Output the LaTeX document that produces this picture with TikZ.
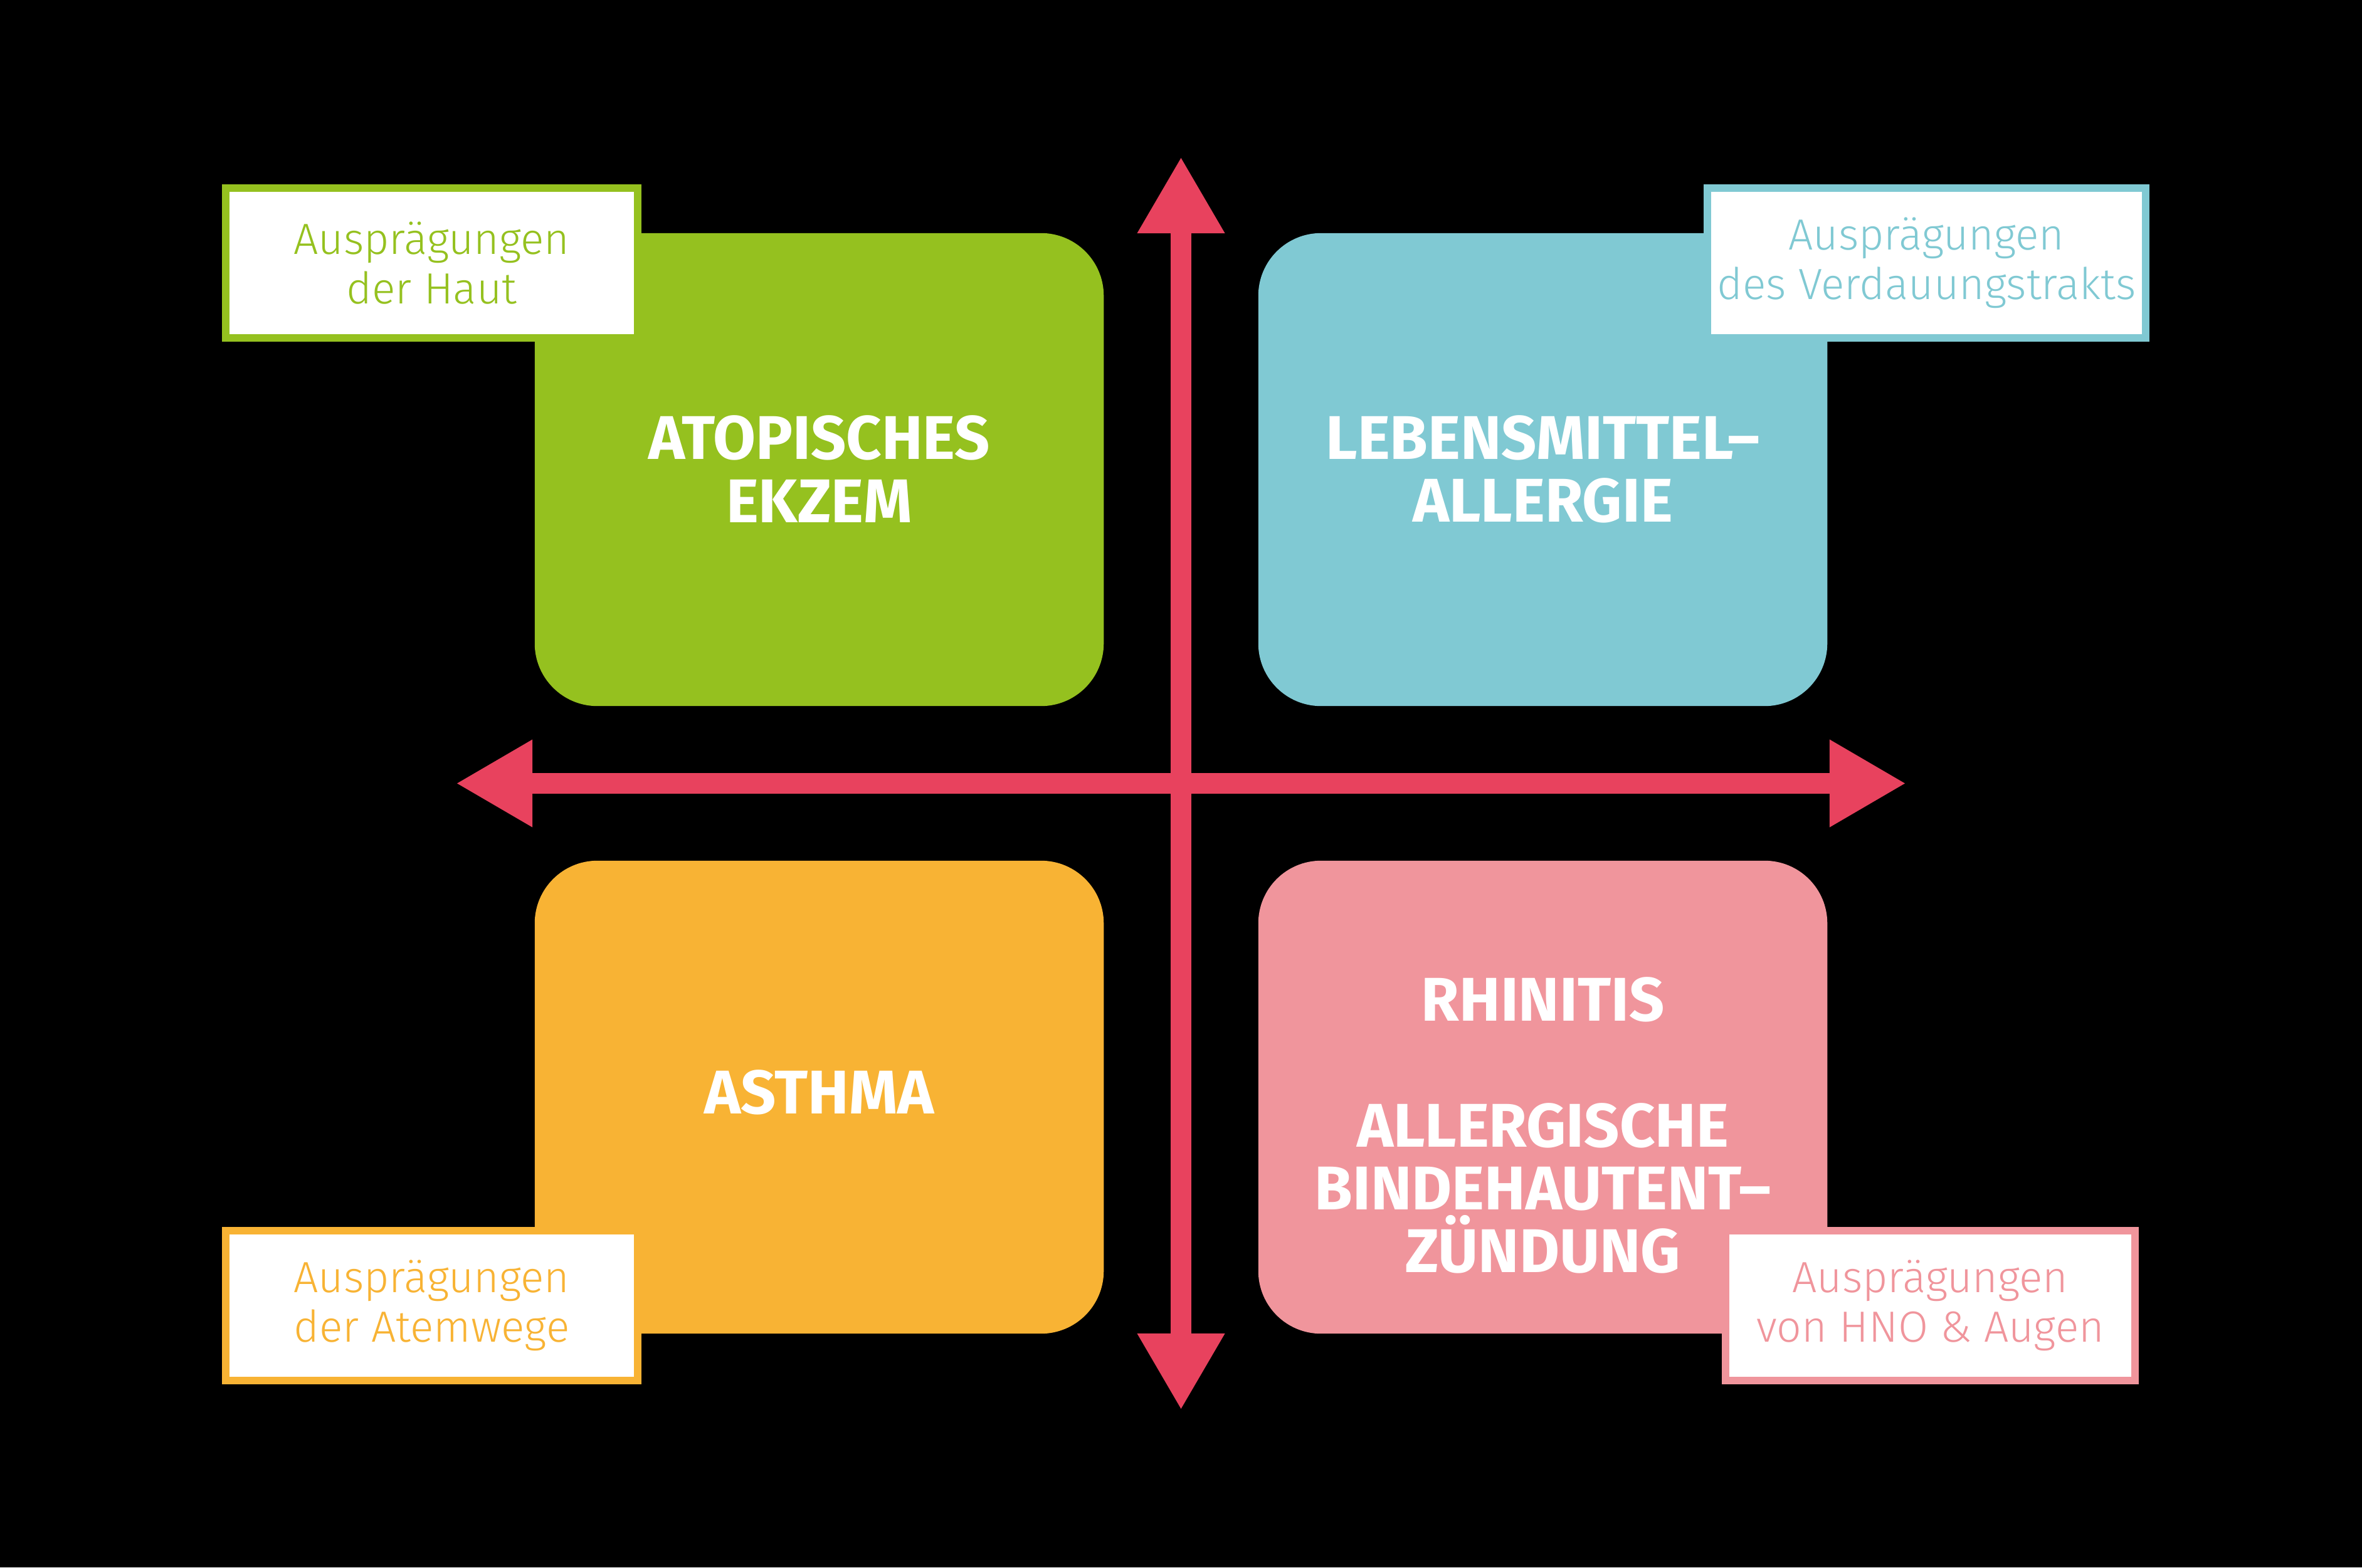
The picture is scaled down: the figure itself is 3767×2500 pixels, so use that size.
\documentclass[tikz,border=0pt]{standalone}
\usepackage{fontspec}
\setmainfont{Fira Sans}
\newfontfamily\labfont{Fira Sans Light}
\usetikzlibrary{arrows.meta}
\definecolor{cgreen}{HTML}{95C11F}
\definecolor{cteal}{HTML}{80C9D3}
\definecolor{corange}{HTML}{F8B334}
\definecolor{cpink}{HTML}{F0959C}
\definecolor{caxis}{HTML}{E8425E}
\begin{document}
\begin{tikzpicture}[x=0.01cm,y=-0.01cm,
  bigbox/.style={fill=#1, draw=none, rounded corners=1cm, minimum width=9.07cm, minimum height=7.54cm, inner sep=0pt},
  tagbox/.style={fill=white, draw=#1, text=#1, line width=0.12cm, minimum height=2.39cm, inner sep=0pt, align=center, font=\labfont\fontsize{19.8}{22.5}\selectfont},
  title/.style={text=white, align=center, inner sep=0pt, font=\bfseries\fontsize{28}{28.5}\selectfont},
  axis/.style={draw=caxis, line width=0.33cm, {Triangle[length=1.2cm,width=1.4cm,line width=0pt]}-{Triangle[length=1.2cm,width=1.4cm,line width=0pt]}}
]
\fill[black] (0,0) rectangle (3767,2500);
\useasboundingbox (0,0) rectangle (3767,2500);

% quadrant boxes
\node[bigbox=cgreen]  (bg) at (1306.5,749) {};
\node[bigbox=cteal]   (bt) at (2460.5,749) {};
\node[bigbox=corange] (bo) at (1306.5,1750) {};
\node[bigbox=cpink]   (bp) at (2460.5,1750) {};

% axes
\coordinate (vt) at (1883.5,252);
\coordinate (vb) at (1883.5,2247);
\coordinate (hl) at (729,1249.5);
\coordinate (hr) at (3038,1249.5);
\draw[axis] (vt) -- (vb);
\draw[axis] (hl) -- (hr);

% titles
\node[title] (tg) at (1306.5,748) {ATOPISCHES\\EKZEM};
\node[title] (tt) at (2460.5,748) {LEBENSMITTEL–\\ALLERGIE};
\node[title] (to) at (1306.5,1742) {ASTHMA};
\node[title] (tp) at (2460.5,1795) {RHINITIS\\[28.5pt]ALLERGISCHE\\BINDEHAUTENT–\\ZÜNDUNG};

% tags
\node[tagbox=cgreen,  minimum width=6.57cm] (lg) at (688.5,419.5)  {Ausprägungen\\der Haut};
\node[tagbox=cteal,   minimum width=6.99cm] (lt) at (3072.5,419.5) {Ausprägungen\\des Verdauungstrakts};
\node[tagbox=corange, minimum width=6.57cm] (lo) at (688.5,2082.5) {Ausprägungen\\der Atemwege};
\node[tagbox=cpink,   minimum width=6.53cm] (lp) at (3078.5,2082.5) {Ausprägungen\\von HNO \& Augen};
\end{tikzpicture}
\end{document}
